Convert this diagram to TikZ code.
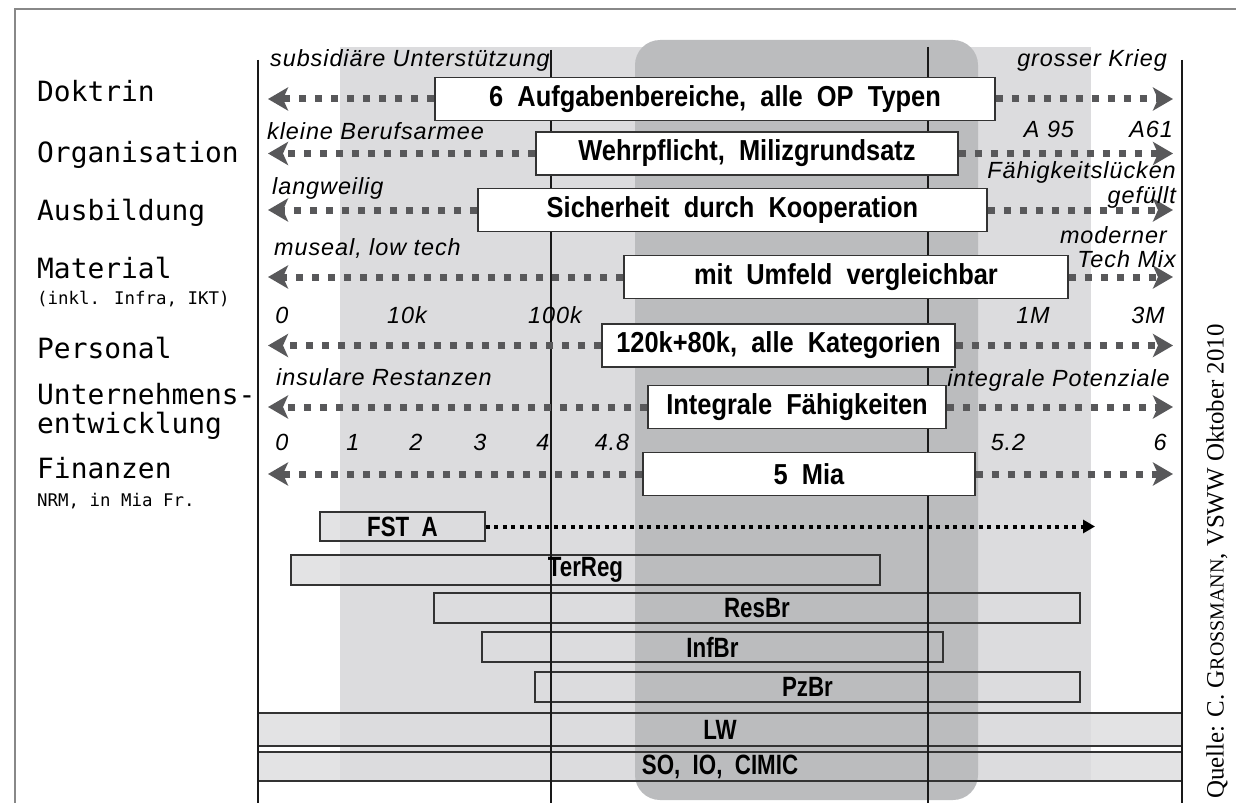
\documentclass[tikz,border=0pt]{standalone}
\usepackage{fontspec}
\usepackage{tikz}
\usetikzlibrary{arrows.meta,calc,positioning}

\newfontfamily\monofont{DejaVu Sans Mono}
\newfontfamily\notefont[LetterSpace=4]{Liberation Sans}
\newfontfamily\boxfont[FakeStretch=0.88,WordSpace=2]{Liberation Sans}
\newfontfamily\barfont[FakeStretch=0.8,WordSpace=2]{Liberation Sans}
\newfontfamily\creditfont{Liberation Serif}

\definecolor{bandlight}{HTML}{DCDCDE}
\definecolor{banddark}{HTML}{BBBCBE}
\definecolor{barfill}{HTML}{E3E3E4}
\definecolor{boxline}{HTML}{333333}
\definecolor{arrgray}{HTML}{58585A}
\definecolor{framegray}{HTML}{888888}

\begin{document}
\begin{tikzpicture}[x=1bp,y=-1bp,
  rowbox/.style={draw=boxline,fill=white,line width=1.5bp,inner sep=0pt,minimum height=43bp,
    font=\boxfont\bfseries\fontsize{29}{30}\selectfont},
  bar/.style={draw=boxline,fill=barfill,line width=1.8bp,inner sep=0pt,
    font=\barfont\bfseries\fontsize{28}{29}\selectfont},
  rowarr/.style={-{Stealth[length=20bp,width=23bp,inset=5bp]},draw=arrgray,line width=7bp,
    dash pattern=on 7bp off 9bp},
  fstarr/.style={-{Triangle[length=12bp,width=13bp]},line width=4bp,dash pattern=on 4bp off 4.5bp},
  lbl/.style={anchor=base west,inner sep=0pt,font=\monofont\fontsize{28}{30}\selectfont},
  sublbl/.style={anchor=base west,inner sep=0pt,font=\monofont\fontsize{17.5}{19}\selectfont},
  note/.style={inner sep=0pt,font=\notefont\itshape\fontsize{23.5}{25}\selectfont},
  axis/.style={line width=2.5bp,draw=black!90}]
  \useasboundingbox (0,0) rectangle (1236,803);

  % frame and background bands
  \draw[framegray,line width=1.5bp] (1236,9) -- (15,9) -- (15,803);
  \fill[bandlight] (340,47) rectangle (1091,781);
  \fill[banddark,rounded corners=25bp] (635,40) rectangle (978,800);

  \draw[axis] (258,60) -- (258,803);
  \draw[axis] (551,50) -- (551,803);
  \draw[axis] (928,47) -- (928,803);
  \draw[axis] (1182,60) -- (1182,803);

  % row titles
  \node[lbl] (doktrin) at (37,102) {Doktrin};
  \node[lbl] (organisation) at (37,162) {Organisation};
  \node[lbl] (ausbildung) at (37,220) {Ausbildung};
  \node[lbl] (material) at (37,278) {Material};
  \node[sublbl] (infra) at (37,304) {(inkl. Infra, IKT)};
  \node[lbl] (personal) at (37,358) {Personal};
  \node[lbl] (unternehmen) at (37,404) {Unternehmens-};
  \node[lbl] (entwicklung) at (37,433) {entwicklung};
  \node[lbl] (finanzen) at (37,478) {Finanzen};
  \node[sublbl] (nrm) at (37,506) {NRM, in Mia Fr.};

  % arrows and boxes
  \coordinate (l1) at (268,99);   \coordinate (r1) at (1173,99);
  \coordinate (l2) at (268,153.5);\coordinate (r2) at (1173,153.5);
  \coordinate (l3) at (268,210);  \coordinate (r3) at (1173,210);
  \coordinate (l4) at (268,277);  \coordinate (r4) at (1173,277);
  \coordinate (l5) at (268,345.5);\coordinate (r5) at (1173,345.5);
  \coordinate (l6) at (268,407);  \coordinate (r6) at (1173,407);
  \coordinate (l7) at (268,474);  \coordinate (r7) at (1173,474);

  \node[rowbox,minimum width=560bp] (b1) at (715,99) {6 Aufgabenbereiche, alle OP Typen};
  \node[rowbox,minimum width=422bp] (b2) at (747,153.5) {Wehrpflicht, Milizgrundsatz};
  \node[rowbox,minimum width=509bp] (b3) at (732.5,210) {Sicherheit durch Kooperation};
  \node[rowbox,minimum width=444bp] (b4) at (846,277) {mit Umfeld vergleichbar};
  \node[rowbox,minimum width=353bp] (b5) at (778.5,345.5) {120k+80k, alle Kategorien};
  \node[rowbox,minimum width=298bp] (b6) at (797,407) {Integrale Fähigkeiten};
  \node[rowbox,minimum width=332bp] (b7) at (809,474) {5 Mia};

  \draw[rowarr] (b1.west) -- (l1);  \draw[rowarr] (b1.east) -- (r1);
  \draw[rowarr] (b2.west) -- (l2);  \draw[rowarr] (b2.east) -- (r2);
  \draw[rowarr] (b3.west) -- (l3);  \draw[rowarr] (b3.east) -- (r3);
  \draw[rowarr] (b4.west) -- (l4);  \draw[rowarr] (b4.east) -- (r4);
  \draw[rowarr] (b5.west) -- (l5);  \draw[rowarr] (b5.east) -- (r5);
  \draw[rowarr] (b6.west) -- (l6);  \draw[rowarr] (b6.east) -- (r6);
  \draw[rowarr] (b7.west) -- (l7);  \draw[rowarr] (b7.east) -- (r7);

  % scale notes
  \node[note,anchor=base west] (n1l) at (270,67) {subsidiäre Unterstützung};
  \node[note,anchor=base east] (n1r) at (1167,67) {grosser Krieg};
  \node[note,anchor=base west] (n2l) at (267,139) {kleine Berufsarmee};
  \node[note,anchor=base] (n2m) at (1049,137) {A 95};
  \node[note,anchor=base east] (n2r) at (1173,137) {A61};
  \node[note,anchor=base west] (n3l) at (272,194) {langweilig};
  \node[note,anchor=base east] (n3r) at (1176,178) {Fähigkeitslücken};
  \node[note,anchor=base east] (n3s) at (1176,203) {gefüllt};
  \node[note,anchor=base west] (n4l) at (274,255) {museal, low tech};
  \node[note,anchor=base east] (n4r) at (1167,243) {moderner};
  \node[note,anchor=base east] (n4s) at (1176,267) {Tech Mix};
  \node[note,anchor=base] (p0) at (282,323) {0};
  \node[note,anchor=base] (p10k) at (407,323) {10k};
  \node[note,anchor=base] (p100k) at (555,323) {100k};
  \node[note,anchor=base] (p1m) at (1033,323) {1M};
  \node[note,anchor=base] (p3m) at (1148,323) {3M};
  \node[note,anchor=base west] (n6l) at (276,385) {insulare Restanzen};
  \node[note,anchor=base east] (n6r) at (1170,386) {integrale Potenziale};
  \node[note,anchor=base] (f0) at (282,450) {0};
  \node[note,anchor=base] (f1) at (353,450) {1};
  \node[note,anchor=base] (f2) at (416,450) {2};
  \node[note,anchor=base] (f3) at (480,450) {3};
  \node[note,anchor=base] (f4) at (543,450) {4};
  \node[note,anchor=base] (f48) at (612,450) {4.8};
  \node[note,anchor=base] (f52) at (1008,450) {5.2};
  \node[note,anchor=base] (f6) at (1160,450) {6};

  % formations
  \begin{scope}[blend mode=darken]
    \node[bar,minimum width=165bp,minimum height=29bp] (fsta) at (402.5,526.5) {FST A};
    \node[bar,minimum width=589bp,minimum height=30bp] (terreg) at (585.5,570) {TerReg};
    \node[bar,minimum width=646bp,minimum height=30bp] (resbr) at (757,608) {ResBr};
    \node[bar,minimum width=461bp,minimum height=30bp] (infbr) at (712.5,647) {InfBr};
    \node[bar,minimum width=545bp,minimum height=30bp] (pzbr) at (807.5,687) {PzBr};
    \node[bar,minimum width=924bp,minimum height=33bp] (lw) at (720,729.5) {LW};
    \node[bar,minimum width=924bp,minimum height=29bp] (soio) at (720,766.5) {SO, IO, CIMIC};
  \end{scope}
  \coordinate (fstend) at (1095,526.5);
  \draw[fstarr] (fsta.east) -- (fstend);

  \node[rotate=90,anchor=west,inner sep=0pt,font=\creditfont\fontsize{25}{27}\selectfont] (quelle) at (1217,799)
    {Quelle: C. G{\fontsize{20}{22}\selectfont ROSSMANN}, VSWW Oktober 2010};
\end{tikzpicture}
\end{document}
